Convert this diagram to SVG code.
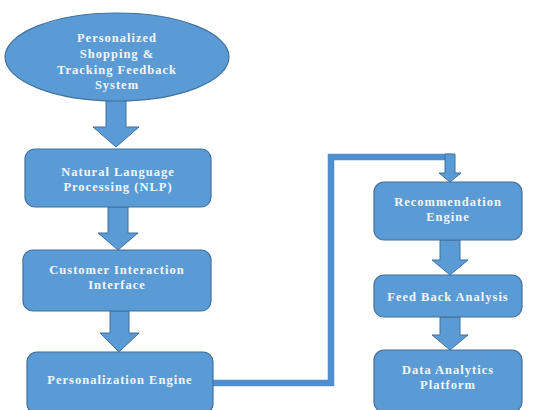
<svg xmlns="http://www.w3.org/2000/svg" width="533" height="410" viewBox="0 0 533 410">
<style>
.n{fill:#5B9BD5;stroke:#41719C;stroke-width:1.2}
.a{fill:#5B9BD5;stroke:#41719C;stroke-width:1}
.t{font-family:"Liberation Serif","Times New Roman",serif;font-weight:bold;font-size:12.5px;fill:#F2F6FC;text-anchor:middle;letter-spacing:1px}
.c{fill:none;stroke:#4F8FCF;stroke-width:6.5;stroke-linejoin:miter}
</style>
<rect width="533" height="410" fill="#fff"/>
<g id="connectors">
<path class="a" d="M106,100 H126 V127 H139 L116,147 L93,127 H106 Z"/>
<path class="a" d="M108,207 H128 V233 H138 L118,250 L98,233 H108 Z"/>
<path class="a" d="M110,311 H129 V333 H139 L119,352 L100,333 H110 Z"/>
<path class="c" d="M213,383 H331 V157 H452"/>
<path class="a" d="M445,154 H455 V173 H461 L450,182 L439,173 H445 Z"/>
<path class="a" d="M440,240 H460 V260 H468 L450,275 L432,260 H440 Z"/>
<path class="a" d="M440,317 H460 V335 H468 L450,350 L432,335 H440 Z"/>
</g>
<g id="n1">
<ellipse class="n" cx="117" cy="57" rx="112" ry="44"/>
<text class="t" x="117" y="42">Personalized</text>
<text class="t" x="117" y="58">Shopping &amp;</text>
<text class="t" x="117" y="74">Tracking Feedback</text>
<text class="t" x="117" y="89">System</text>
</g>
<g id="n2">
<rect class="n" x="25" y="149" width="186" height="58" rx="10"/>
<text class="t" x="118" y="176">Natural Language</text>
<text class="t" x="118" y="191">Processing (NLP)</text>
</g>
<g id="n3">
<rect class="n" x="23" y="250" width="188" height="61" rx="10"/>
<text class="t" x="117" y="274">Customer Interaction</text>
<text class="t" x="117" y="289">Interface</text>
</g>
<g id="n4">
<rect class="n" x="27" y="352" width="186" height="62" rx="10"/>
<text class="t" x="120" y="384">Personalization Engine</text>
</g>
<g id="n5">
<rect class="n" x="374" y="182" width="148" height="58" rx="10"/>
<text class="t" x="448" y="206">Recommendation</text>
<text class="t" x="448" y="221">Engine</text>
</g>
<g id="n6">
<rect class="n" x="374" y="275" width="148" height="42" rx="10"/>
<text class="t" x="448" y="301">Feed Back Analysis</text>
</g>
<g id="n7">
<rect class="n" x="374" y="350" width="148" height="62" rx="10"/>
<text class="t" x="448" y="374">Data Analytics</text>
<text class="t" x="448" y="389">Platform</text>
</g>
</svg>
